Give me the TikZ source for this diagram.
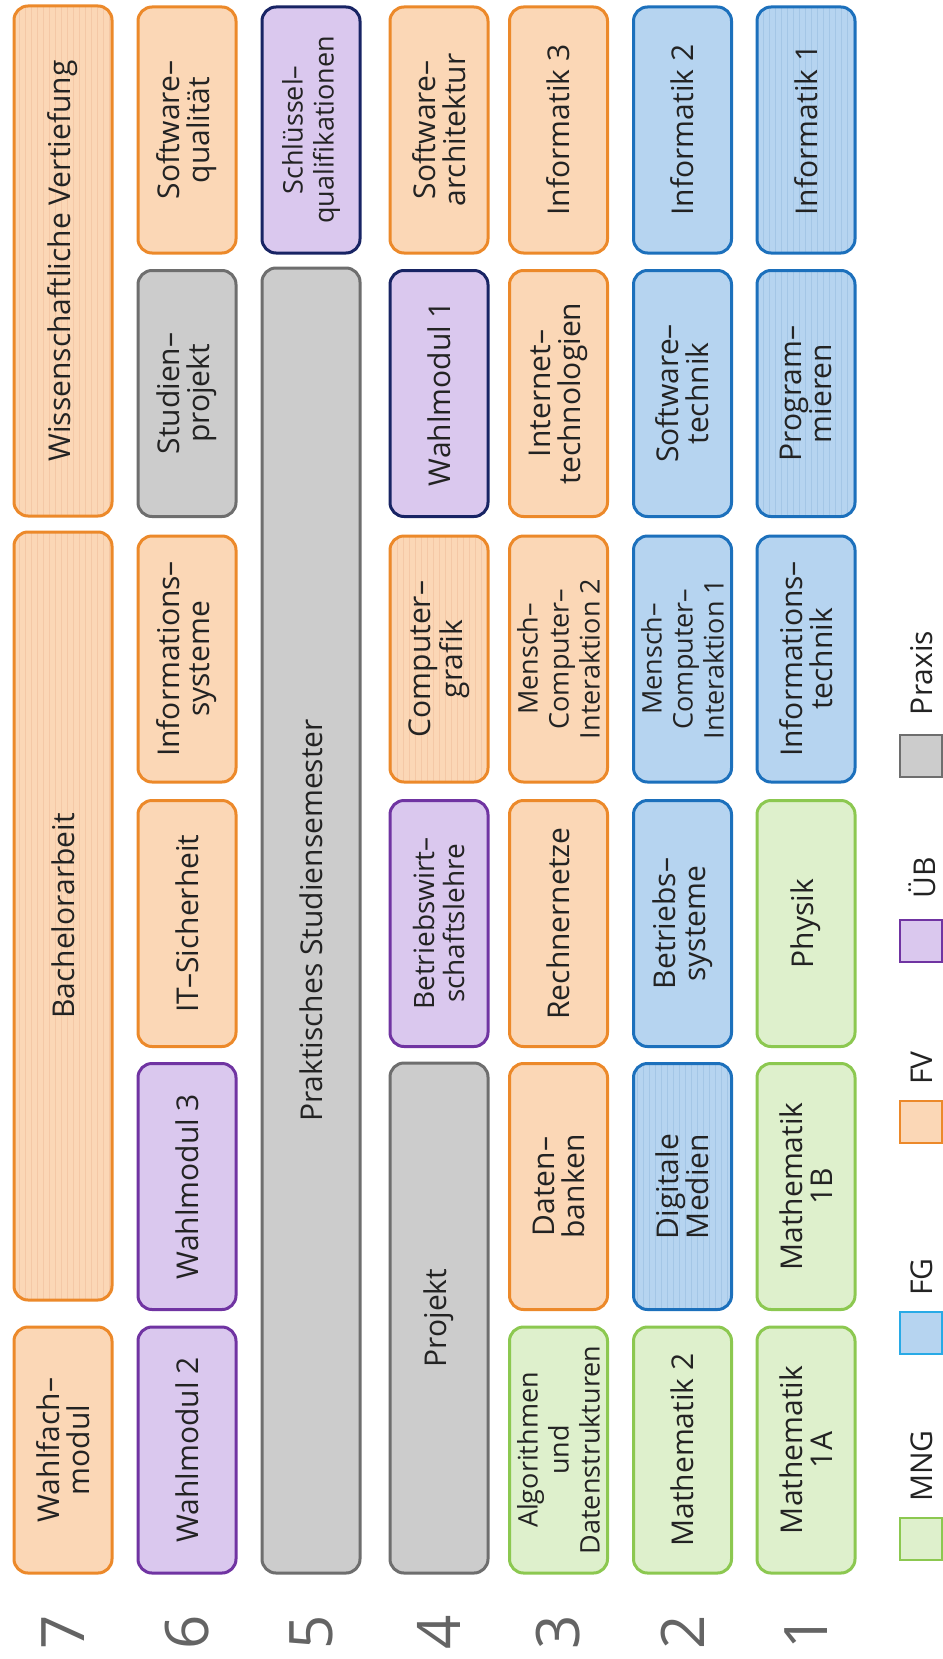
\documentclass[tikz,border=0pt]{standalone}
\usepackage{fontspec}
\setmainfont{Open Sans}
\usetikzlibrary{patterns}
\definecolor{fvRand}{RGB}{236,137,42}
\definecolor{fvFuell}{RGB}{251,215,182}
\definecolor{fvStreifen}{RGB}{244,200,166}
\definecolor{fgRand}{RGB}{28,112,188}
\definecolor{fgFuell}{RGB}{182,212,240}
\definecolor{fgStreifen}{RGB}{164,198,230}
\definecolor{fgHell}{RGB}{40,170,230}
\definecolor{mngRand}{RGB}{140,200,80}
\definecolor{mngFuell}{RGB}{222,240,204}
\definecolor{uebRand}{RGB}{112,52,162}
\definecolor{uebFuell}{RGB}{218,200,238}
\definecolor{navyRand}{RGB}{24,36,100}
\definecolor{praxisRand}{RGB}{110,110,110}
\definecolor{praxisFuell}{RGB}{204,204,204}
\definecolor{textGrau}{RGB}{35,35,35}
\definecolor{nrGrau}{RGB}{100,100,100}

\begin{document}
\begin{tikzpicture}[x=0.5pt, y=-0.5pt,
    modul/.style={
        rectangle, rounded corners=7pt, rotate=90,
        line width=1.5pt, minimum width=123pt, minimum height=49pt,
        inner sep=2pt, align=center, text=textGrau,
        font=\fontsize{15}{15}\selectfont},
    fv/.style={modul, draw=fvRand, fill=fvFuell},
    fg/.style={modul, draw=fgRand, fill=fgFuell},
    mng/.style={modul, draw=mngRand, fill=mngFuell},
    ueb/.style={modul, draw=uebRand, fill=uebFuell},
    praxis/.style={modul, draw=praxisRand, fill=praxisFuell},
    navy/.style={draw=navyRand},
    fvst/.style={fv, preaction={fill=fvFuell}, pattern=vertical lines, pattern color=fvStreifen},
    fgst/.style={fg, preaction={fill=fgFuell}, pattern=vertical lines, pattern color=fgStreifen},
    klein/.style={font=\fontsize{13.5}{15.5}\selectfont},
    semnr/.style={rotate=90, font=\fontsize{30}{30}\selectfont, text=nrGrau},
    legbox/.style={rectangle, line width=1.2pt, minimum size=21pt, inner sep=0pt},
    legtext/.style={rotate=90, font=\fontsize{15}{15}\selectfont, text=textGrau}]
  \fill[white] (0,0) rectangle (942,1659);
  \useasboundingbox (0,0) rectangle (942,1659);
  % Semester 7
  \node[fvst, minimum width=255pt] (wv) at (63,261) {Wissenschaftliche Vertiefung};
  \node[fvst, minimum width=384pt] (ba) at (63,916) {Bachelorarbeit};
  \node[fv] (wfm) at (63,1450) {Wahlfach–\\modul};
  % Semester 6
  \node[fv]     (swq)  at (187,130)    {Software–\\qualität};
  \node[praxis] (stp)  at (187,393.5)  {Studien–\\projekt};
  \node[fv]     (infs) at (187,659)    {Informations–\\systeme};
  \node[fv]     (its)  at (187,923.5)  {IT–Sicherheit};
  \node[ueb]    (wm3)  at (187,1186.5) {Wahlmodul 3};
  \node[ueb]    (wm2)  at (187,1450)   {Wahlmodul 2};
  % Semester 5
  \node[ueb, navy, klein] (skq) at (311,130) {Schlüssel–\\qualifikationen};
  \node[praxis, minimum width=652.5pt] (pss) at (311,920.5) {Praktisches Studiensemester};
  % Semester 4
  \node[fv]        (swa) at (439,130)   {Software–\\architektur};
  \node[ueb, navy] (wm1) at (439,393.5) {Wahlmodul 1};
  \node[fvst]      (cg)  at (439,659)   {Computer–\\grafik};
  \node[ueb, font=\fontsize{14}{15}\selectfont] (bwl) at (439,923.5) {Betriebswirt–\\schaftslehre};
  \node[praxis, minimum width=255pt] (prj) at (439,1318) {Projekt};
  % Semester 3
  \node[fv]         (inf3)  at (558.5,130)    {Informatik 3};
  \node[fv]         (itech) at (558.5,393.5)  {Internet–\\technologien};
  \node[fv, klein]  (mci2)  at (558.5,659)    {Mensch–\\Computer–\\Interaktion 2};
  \node[fv]         (rn)    at (558.5,923.5)  {Rechnernetze};
  \node[fv]         (db)    at (558.5,1186.5) {Daten–\\banken};
  \node[mng, klein] (aud)   at (558.5,1450)   {Algorithmen\\und\\Datenstrukturen};
  % Semester 2
  \node[fg]        (inf2) at (682.5,130)    {Informatik 2};
  \node[fg]        (swt)  at (682.5,393.5)  {Software–\\technik};
  \node[fg, klein] (mci1) at (682.5,659)    {Mensch–\\Computer–\\Interaktion 1};
  \node[fg]        (bs)   at (682.5,923.5)  {Betriebs–\\systeme};
  \node[fgst]      (dm)   at (682.5,1186.5) {Digitale\\Medien};
  \node[mng]       (ma2)  at (682.5,1450)   {Mathematik 2};
  % Semester 1
  \node[fgst] (inf1) at (806,130)    {Informatik 1};
  \node[fgst] (prog) at (806,393.5)  {Program–\\mieren};
  \node[fg]   (it)   at (806,659)    {Informations–\\technik};
  \node[mng]  (phy)  at (806,923.5)  {Physik};
  \node[mng]  (ma1b) at (806,1186.5) {Mathematik\\1B};
  \node[mng]  (ma1a) at (806,1450)   {Mathematik\\1A};
  % Semesternummern
  \node[semnr] (nr7) at (63,1632)    {7};
  \node[semnr] (nr6) at (187,1632)   {6};
  \node[semnr] (nr5) at (311,1632)   {5};
  \node[semnr] (nr4) at (439,1632)   {4};
  \node[semnr] (nr3) at (558.5,1632) {3};
  \node[semnr] (nr2) at (682.5,1632) {2};
  \node[semnr] (nr1) at (806,1632)   {1};
  % Legende
  \node[legbox, draw=mngRand, fill=mngFuell]       (lmng) at (921,1539) {};
  \node[legbox, draw=fgHell, fill=fgFuell]         (lfg)  at (921,1333) {};
  \node[legbox, draw=fvRand, fill=fvFuell]         (lfv)  at (921,1122) {};
  \node[legbox, draw=uebRand, fill=uebFuell]       (lueb) at (921,941)  {};
  \node[legbox, draw=praxisRand, fill=praxisFuell] (lpx)  at (921,756)  {};
  \node[legtext] (tmng) at (922,1466) {MNG};
  \node[legtext] (tfg)  at (922,1277) {FG};
  \node[legtext] (tfv)  at (922,1068) {FV};
  \node[legtext] (tueb) at (922,878)  {ÜB};
  \node[legtext] (tpx)  at (922,673)  {Praxis};
\end{tikzpicture}
\end{document}
